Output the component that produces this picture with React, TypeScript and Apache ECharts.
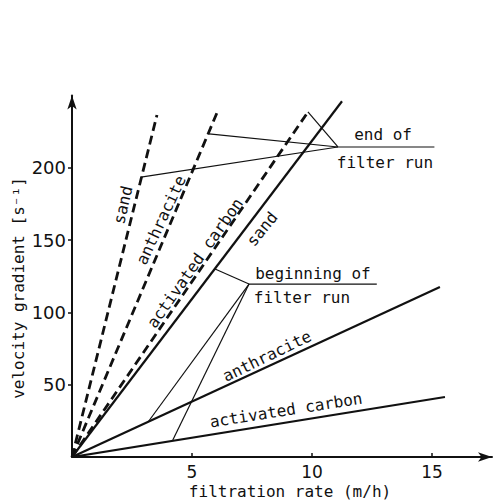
import React, { useEffect, useRef } from "react";
import * as echarts from "echarts";

const xTicks = [5, 10, 15];
const yTicks = [50, 100, 150, 200];
const xTitle = "filtration rate (m/h)";
const yTitle = "velocity gradient [s⁻¹]";

// filter media lines [filtration rate, velocity gradient]
const dashedSand = [[0, 0], [3.54, 236.5]];
const dashedAnthracite = [[0, 0], [6.04, 238]];
const dashedCarbon = [[0, 0], [9.83, 238.6]];
const solidSand = [[0, 0], [11.25, 246]];
const solidAnthracite = [[0, 0], [15.33, 117.6]];
const solidCarbon = [[0, 0], [15.54, 41.5]];

// end of filter run connector lines
const endHub = [11.08, 214.4];
const endTargets = [[2.875, 193.6], [5.71, 223.4], [9.83, 238.6]];
const endLeader = [[11.08, 214.4], [15.1, 214.4]];

// beginning of filter run connector lines
const beginHub = [7.375, 119.6];
const beginTargets = [[5.96, 130], [3.17, 24.2], [4.2, 11.8]];
const beginLeader = [[7.375, 119.6], [12.7, 119.6]];

// annotation labels: text, position (data), rotation (deg)
const labelTexts = ["sand", "anthracite", "activated carbon", "sand", "anthracite", "activated carbon", "end of", "filter run", "beginning of", "filter run"];
const labelPos = [[2.125, 174.3], [3.71, 163.9], [5.125, 134.2], [7.92, 157.7], [8.125, 69.8], [8.92, 32.5], [12.96, 222.7], [13.04, 204], [10.04, 127.2], [9.58, 110]];
const labelRot = [77, 65, 55, 51, 26, 9, 0, 0, 0, 0];

const FONT = "DejaVu Sans Mono";
const NUM_FONT = "DejaVu Sans";
const INK = "#111";

export default function App() {
  const ref = useRef<HTMLDivElement>(null);
  useEffect(() => {
    if (!ref.current) return;
    const chart = echarts.init(ref.current, null, { renderer: "svg" });
    const dashed = (name: string, data: number[][]) => ({
      name, type: "line", data, symbol: "none", silent: true,
      lineStyle: { color: INK, width: 2.8, type: [9, 5] },
    });
    const solid = (name: string, data: number[][]) => ({
      name, type: "line", data, symbol: "none", silent: true,
      lineStyle: { color: INK, width: 2.2 },
    });
    const thin = (name: string, data: number[][]) => ({
      name, type: "line", data, symbol: "none", silent: true,
      lineStyle: { color: INK, width: 1.2 },
    });
    const series: any[] = [
      dashed("sand (start)", dashedSand),
      dashed("anthracite (start)", dashedAnthracite),
      dashed("activated carbon (start)", dashedCarbon),
      solid("sand", solidSand),
      solid("anthracite", solidAnthracite),
      solid("activated carbon", solidCarbon),
      ...endTargets.map((t, i) => thin("end" + i, [endHub, t])),
      thin("endLeader", endLeader),
      ...beginTargets.map((t, i) => thin("begin" + i, [beginHub, t])),
      thin("beginLeader", beginLeader),
    ];
    chart.setOption({
      animation: false,
      backgroundColor: "#fff",
      grid: { left: 72, right: 6, top: 95.5, bottom: 45, outerBoundsMode: "none", containLabel: false },
      xAxis: {
        type: "value", min: 0, max: 17.5, interval: 5,
        axisLine: { show: true, symbol: ["none", "arrow"], symbolSize: [7, 14], lineStyle: { color: INK, width: 2 } },
        axisTick: { show: true, inside: true, length: 4, customValues: xTicks, lineStyle: { color: INK, width: 1.5 } },
        axisLabel: { customValues: xTicks, color: INK, fontSize: 17, fontFamily: NUM_FONT, margin: 6 },
        splitLine: { show: false },
      },
      yAxis: {
        type: "value", min: 0, max: 250, interval: 50,
        axisLine: { show: true, symbol: ["none", "arrow"], symbolSize: [7, 14], lineStyle: { color: INK, width: 2 } },
        axisTick: { show: true, inside: false, length: 4, customValues: yTicks, lineStyle: { color: INK, width: 1.5 } },
        axisLabel: { customValues: yTicks, color: INK, fontSize: 18, fontFamily: NUM_FONT, margin: 6 },
        splitLine: { show: false },
      },
      series,
    });
    const graphic: any[] = labelTexts.map((text, i) => {
      const p = chart.convertToPixel({ gridIndex: 0 }, labelPos[i]) as number[];
      return {
        type: "text", x: p[0], y: p[1], rotation: (labelRot[i] * Math.PI) / 180, silent: true,
        style: { text, fill: INK, fontSize: 16, fontFamily: FONT, align: "center", verticalAlign: "middle" },
      };
    });
    graphic.push(
      { type: "text", x: 290, y: 491, silent: true,
        style: { text: xTitle, fill: INK, fontSize: 16, fontFamily: FONT, align: "center", verticalAlign: "middle" } },
      { type: "text", x: 18, y: 288, rotation: Math.PI / 2, silent: true,
        style: { text: yTitle, fill: INK, fontSize: 16, fontFamily: FONT, align: "center", verticalAlign: "middle" } },
    );
    chart.setOption({ graphic });
    return () => chart.dispose();
  }, []);
  return <div ref={ref} style={{ position: "absolute", left: 0, top: 0, width: 498, height: 502 }} />;
}
